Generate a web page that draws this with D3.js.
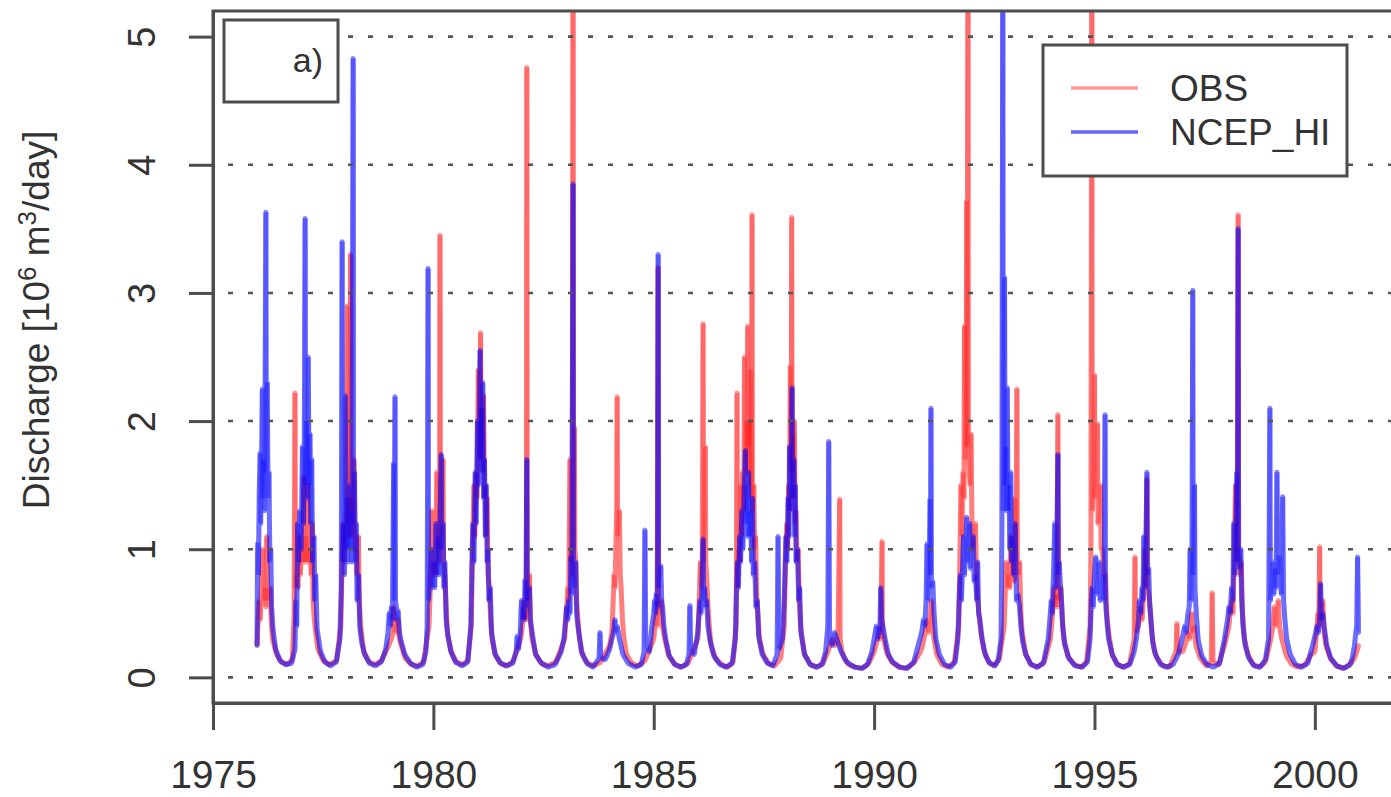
<!DOCTYPE html>
<html>
<head>
<meta charset="utf-8">
<script src="https://cdn.jsdelivr.net/npm/d3@7"></script>
<style>
  body { margin: 0; background: #fff; }
  svg { display: block; font-family: "Liberation Sans", Arial, sans-serif; }
</style>
</head>
<body>
<svg id="chart" width="1391" height="797"></svg>
<script>
// Axis ticks
const xTicks = [1975, 1980, 1985, 1990, 1995, 2000];
const yTicks = [0, 1, 2, 3, 4, 5];
const seriesNames = ["OBS", "NCEP_HI"];
const panelTag = "a)";

// Observed discharge, [decimal year, 10^6 m^3/day]
const obs = [
  [1976.00,0.25],[1976.03,0.50],[1976.05,0.60],[1976.07,0.45],[1976.10,0.70],[1976.13,1.00],[1976.15,0.60],[1976.18,0.70],[1976.20,0.55],[1976.22,1.10],[1976.24,0.60],[1976.27,0.65],[1976.30,0.70],[1976.32,0.45],[1976.35,0.30],[1976.44,0.18],[1976.55,0.12],[1976.68,0.10],[1976.80,0.14],
  [1976.84,0.50],[1976.86,2.22],[1976.87,0.70],[1976.90,0.80],[1976.93,0.70],[1976.95,1.10],[1976.98,0.80],[1977.01,1.00],[1977.04,0.90],[1977.06,1.56],[1977.08,0.90],[1977.11,1.10],[1977.13,0.90],[1977.15,1.50],[1977.17,0.90],[1977.20,1.00],[1977.23,0.80],[1977.25,1.20],[1977.27,0.60],[1977.30,0.45],[1977.33,0.35],[1977.38,0.22],[1977.50,0.13],[1977.64,0.10],[1977.80,0.13],
  [1977.90,0.40],[1977.93,0.90],[1977.95,1.20],[1977.97,0.90],[1978.00,1.10],[1978.03,1.30],[1978.05,2.90],[1978.06,1.20],[1978.09,1.40],[1978.11,1.10],[1978.12,3.30],[1978.13,1.30],[1978.16,1.40],[1978.18,1.10],[1978.20,1.70],[1978.22,1.00],[1978.25,1.00],[1978.27,0.80],[1978.30,1.10],[1978.32,0.60],[1978.35,0.40],[1978.42,0.20],[1978.54,0.12],[1978.68,0.10],[1978.82,0.13],
  [1978.95,0.22],[1979.02,0.28],[1979.05,0.30],[1979.08,0.35],[1979.10,0.55],[1979.13,0.35],[1979.16,0.40],[1979.20,0.45],[1979.23,0.30],[1979.27,0.25],[1979.36,0.15],[1979.50,0.10],[1979.64,0.09],[1979.78,0.12],
  [1979.90,0.40],[1979.94,0.80],[1979.97,1.30],[1979.99,0.80],[1980.02,0.90],[1980.05,0.80],[1980.08,1.60],[1980.10,1.00],[1980.12,1.10],[1980.14,0.90],[1980.15,3.45],[1980.16,1.10],[1980.19,1.20],[1980.22,1.70],[1980.23,0.90],[1980.26,0.80],[1980.29,0.55],[1980.32,0.35],[1980.40,0.20],[1980.52,0.12],[1980.66,0.10],[1980.78,0.13],
  [1980.86,0.40],[1980.89,1.00],[1980.92,1.50],[1980.94,1.10],[1980.97,1.60],[1980.99,1.40],[1981.02,2.40],[1981.04,1.70],[1981.06,2.00],[1981.07,2.69],[1981.09,1.80],[1981.11,2.10],[1981.13,1.60],[1981.14,2.20],[1981.16,1.40],[1981.18,1.50],[1981.20,1.10],[1981.22,1.40],[1981.24,0.80],[1981.27,0.70],[1981.30,0.45],[1981.33,0.30],[1981.40,0.18],[1981.52,0.11],[1981.66,0.09],[1981.80,0.12],
  [1981.98,0.30],[1982.02,0.40],[1982.05,0.60],[1982.07,0.45],[1982.09,0.50],[1982.11,0.45],[1982.12,4.76],[1982.13,0.60],[1982.15,0.50],[1982.18,0.80],[1982.20,0.45],[1982.24,0.30],[1982.32,0.18],[1982.45,0.11],[1982.60,0.09],[1982.78,0.12],
  [1982.98,0.30],[1983.02,0.50],[1983.05,0.70],[1983.07,0.60],[1983.10,1.70],[1983.11,0.90],[1983.13,1.00],[1983.15,0.80],[1983.17,6.50],[1983.18,1.00],[1983.20,1.95],[1983.21,1.00],[1983.23,0.90],[1983.25,0.60],[1983.28,0.45],[1983.31,0.32],[1983.38,0.18],[1983.50,0.11],[1983.64,0.09],[1983.80,0.12],
  [1984.00,0.25],[1984.05,0.35],[1984.08,0.60],[1984.10,0.80],[1984.12,0.70],[1984.14,1.00],[1984.16,1.32],[1984.17,2.19],[1984.18,1.10],[1984.20,1.20],[1984.22,1.30],[1984.24,0.80],[1984.26,0.70],[1984.29,0.45],[1984.32,0.32],[1984.38,0.18],[1984.50,0.11],[1984.64,0.09],[1984.80,0.13],
  [1985.00,0.30],[1985.04,0.45],[1985.06,0.50],[1985.08,0.40],[1985.10,3.20],[1985.11,0.50],[1985.14,0.55],[1985.17,0.60],[1985.20,0.40],[1985.25,0.30],[1985.34,0.17],[1985.48,0.10],[1985.62,0.08],[1985.78,0.11],
  [1986.00,0.30],[1986.03,0.60],[1986.06,0.90],[1986.08,0.70],[1986.10,0.90],[1986.12,2.76],[1986.13,0.90],[1986.15,1.20],[1986.17,1.80],[1986.18,0.90],[1986.20,0.80],[1986.23,0.55],[1986.26,0.40],[1986.30,0.25],[1986.40,0.15],[1986.54,0.10],[1986.68,0.08],[1986.80,0.12],
  [1986.87,0.40],[1986.89,2.22],[1986.90,0.70],[1986.93,1.00],[1986.95,0.90],[1986.97,1.50],[1986.99,1.10],[1987.02,1.60],[1987.04,1.30],[1987.06,2.50],[1987.08,1.60],[1987.10,2.00],[1987.12,1.60],[1987.13,2.74],[1987.15,1.80],[1987.17,2.00],[1987.19,1.50],[1987.20,2.40],[1987.22,1.40],[1987.23,3.61],[1987.24,1.30],[1987.27,1.50],[1987.29,1.00],[1987.31,1.10],[1987.34,0.60],[1987.37,0.45],[1987.40,0.30],[1987.48,0.18],[1987.60,0.11],[1987.74,0.09],[1987.88,0.15],
  [1987.96,0.40],[1987.99,0.90],[1988.02,1.20],[1988.04,1.00],[1988.06,1.50],[1988.08,1.30],[1988.10,2.43],[1988.12,1.60],[1988.13,3.59],[1988.14,1.60],[1988.16,1.90],[1988.18,1.40],[1988.19,2.00],[1988.21,1.20],[1988.23,1.30],[1988.25,0.90],[1988.28,1.00],[1988.30,0.60],[1988.33,0.40],[1988.42,0.18],[1988.55,0.10],[1988.70,0.08],[1988.84,0.11],
  [1988.95,0.20],[1989.05,0.30],[1989.12,0.25],[1989.18,0.30],[1989.22,1.39],[1989.23,0.30],[1989.26,0.22],[1989.32,0.15],[1989.42,0.10],[1989.58,0.08],[1989.74,0.07],[1989.88,0.11],
  [1990.00,0.20],[1990.08,0.30],[1990.12,0.35],[1990.15,0.30],[1990.18,1.06],[1990.19,0.35],[1990.22,0.30],[1990.28,0.20],[1990.40,0.12],[1990.56,0.08],[1990.72,0.07],[1990.90,0.11],
  [1991.05,0.20],[1991.10,0.25],[1991.16,0.35],[1991.20,0.45],[1991.23,0.35],[1991.27,0.45],[1991.30,0.60],[1991.32,0.40],[1991.36,0.30],[1991.42,0.18],[1991.54,0.10],[1991.68,0.08],[1991.82,0.12],
  [1991.92,0.40],[1991.95,1.00],[1991.97,1.50],[1991.99,1.10],[1992.02,1.60],[1992.04,1.40],[1992.05,2.74],[1992.07,1.70],[1992.09,2.00],[1992.10,3.72],[1992.11,1.80],[1992.13,6.50],[1992.14,1.90],[1992.16,1.60],[1992.18,1.50],[1992.20,1.90],[1992.22,1.20],[1992.24,1.00],[1992.27,1.10],[1992.30,1.20],[1992.32,0.80],[1992.35,0.60],[1992.38,0.50],[1992.42,0.35],[1992.50,0.20],[1992.60,0.12],[1992.72,0.09],[1992.84,0.14],
  [1992.95,0.40],[1992.98,0.70],[1993.00,0.90],[1993.03,0.70],[1993.05,0.80],[1993.08,0.70],[1993.10,1.10],[1993.13,0.80],[1993.16,0.90],[1993.18,0.75],[1993.20,1.40],[1993.22,0.90],[1993.24,2.25],[1993.25,0.90],[1993.28,0.80],[1993.30,0.90],[1993.33,0.50],[1993.36,0.35],[1993.44,0.18],[1993.56,0.10],[1993.70,0.08],[1993.86,0.12],
  [1994.00,0.30],[1994.05,0.50],[1994.08,0.70],[1994.10,0.55],[1994.13,0.65],[1994.15,0.55],[1994.17,2.05],[1994.18,0.60],[1994.21,0.65],[1994.24,0.70],[1994.27,0.45],[1994.30,0.30],[1994.40,0.16],[1994.54,0.10],[1994.70,0.08],[1994.82,0.12],
  [1994.90,0.40],[1994.92,1.00],[1994.94,6.50],[1994.95,1.30],[1994.97,1.50],[1995.00,2.36],[1995.01,1.40],[1995.04,1.50],[1995.07,1.98],[1995.08,1.20],[1995.11,1.30],[1995.14,1.50],[1995.15,1.00],[1995.18,1.00],[1995.21,0.80],[1995.25,0.80],[1995.28,0.50],[1995.32,0.35],[1995.40,0.18],[1995.52,0.10],[1995.66,0.08],[1995.80,0.11],
  [1995.90,0.30],[1995.92,0.94],[1995.93,0.35],[1996.00,0.40],[1996.05,0.55],[1996.08,0.45],[1996.12,0.70],[1996.15,1.00],[1996.17,0.70],[1996.19,1.55],[1996.20,0.70],[1996.23,0.65],[1996.27,0.50],[1996.30,0.35],[1996.35,0.22],[1996.42,0.15],[1996.55,0.09],[1996.70,0.08],
  [1996.85,0.20],[1996.87,0.42],[1996.89,0.20],[1997.00,0.20],[1997.08,0.28],[1997.12,0.35],[1997.16,0.30],[1997.20,0.50],[1997.23,0.35],[1997.26,0.40],[1997.30,0.25],[1997.40,0.15],[1997.54,0.09],[1997.65,0.12],[1997.67,0.66],[1997.69,0.12],[1997.82,0.10],
  [1997.95,0.25],[1998.02,0.35],[1998.05,0.40],[1998.09,0.55],[1998.12,0.60],[1998.14,0.50],[1998.17,0.90],[1998.20,1.50],[1998.22,0.90],[1998.24,1.00],[1998.26,3.61],[1998.27,1.00],[1998.30,0.80],[1998.33,0.90],[1998.36,0.50],[1998.40,0.30],[1998.48,0.18],[1998.60,0.10],[1998.74,0.08],[1998.88,0.12],
  [1999.00,0.30],[1999.05,0.40],[1999.08,0.55],[1999.10,0.40],[1999.13,0.45],[1999.17,0.60],[1999.20,0.40],[1999.25,0.30],[1999.35,0.17],[1999.48,0.10],[1999.62,0.08],[1999.78,0.10],
  [1999.92,0.18],[2000.00,0.20],[2000.04,0.35],[2000.07,0.50],[2000.09,0.40],[2000.11,1.02],[2000.12,0.45],[2000.15,0.45],[2000.18,0.60],[2000.21,0.35],[2000.25,0.25],[2000.35,0.15],[2000.48,0.09],[2000.64,0.07],[2000.80,0.10],
  [2000.90,0.15],[2000.95,0.20],[2000.99,0.25]
];

// Simulated discharge (NCEP_HI), [decimal year, 10^6 m^3/day]
const ncep = [
  [1976.00,0.25],[1976.01,0.95],[1976.02,1.05],[1976.03,0.80],[1976.05,1.45],[1976.07,1.75],[1976.08,1.20],[1976.10,1.60],[1976.12,2.25],[1976.13,1.40],[1976.15,1.70],[1976.17,1.30],[1976.20,3.63],[1976.21,1.60],[1976.23,2.30],[1976.25,1.40],[1976.27,1.60],[1976.29,0.90],[1976.31,1.00],[1976.33,0.55],[1976.36,0.38],[1976.42,0.22],[1976.52,0.13],[1976.65,0.10],[1976.78,0.11],
  [1976.86,0.22],[1976.88,0.60],[1976.90,0.40],[1976.92,1.20],[1976.94,0.90],[1976.97,1.30],[1977.00,1.00],[1977.03,1.80],[1977.05,1.20],[1977.07,1.60],[1977.09,3.58],[1977.10,1.50],[1977.12,2.00],[1977.14,1.40],[1977.16,2.50],[1977.18,1.50],[1977.20,1.90],[1977.22,1.20],[1977.24,1.70],[1977.26,0.90],[1977.29,1.10],[1977.31,0.60],[1977.33,0.80],[1977.36,0.38],[1977.44,0.20],[1977.54,0.12],[1977.66,0.09],[1977.80,0.12],
  [1977.88,0.30],[1977.91,0.70],[1977.93,3.40],[1977.94,0.90],[1977.96,1.20],[1977.98,0.80],[1978.00,2.20],[1978.02,1.00],[1978.04,1.40],[1978.06,0.90],[1978.08,1.50],[1978.10,1.00],[1978.13,1.30],[1978.15,0.90],[1978.18,4.83],[1978.19,1.20],[1978.21,1.60],[1978.23,0.90],[1978.25,1.20],[1978.27,0.60],[1978.30,0.80],[1978.33,0.40],[1978.37,0.28],[1978.44,0.18],[1978.55,0.11],[1978.68,0.09],[1978.82,0.12],
  [1978.92,0.22],[1978.97,0.35],[1979.00,0.50],[1979.02,0.40],[1979.05,0.55],[1979.07,0.45],[1979.10,1.67],[1979.11,0.60],[1979.13,2.19],[1979.14,0.60],[1979.16,0.55],[1979.18,0.45],[1979.20,0.52],[1979.23,0.35],[1979.27,0.28],[1979.35,0.18],[1979.48,0.11],[1979.62,0.08],[1979.76,0.10],
  [1979.83,0.20],[1979.86,0.40],[1979.88,3.19],[1979.89,0.60],[1979.92,0.80],[1979.96,1.00],[1979.98,0.70],[1980.01,0.90],[1980.03,0.70],[1980.06,1.20],[1980.08,0.80],[1980.11,1.10],[1980.13,0.80],[1980.16,1.40],[1980.18,1.74],[1980.19,1.00],[1980.22,1.20],[1980.24,0.70],[1980.26,0.90],[1980.29,0.45],[1980.33,0.32],[1980.40,0.20],[1980.50,0.12],[1980.65,0.09],[1980.78,0.12],
  [1980.85,0.40],[1980.88,1.00],[1980.90,1.20],[1980.92,0.90],[1980.95,1.60],[1980.97,1.20],[1981.00,2.00],[1981.02,1.50],[1981.04,1.90],[1981.06,2.55],[1981.07,1.70],[1981.09,2.10],[1981.11,1.60],[1981.12,2.30],[1981.14,1.40],[1981.16,1.70],[1981.18,1.10],[1981.20,1.50],[1981.22,0.90],[1981.24,1.00],[1981.26,0.60],[1981.29,0.70],[1981.32,0.35],[1981.40,0.18],[1981.52,0.11],[1981.66,0.09],[1981.80,0.11],
  [1981.88,0.20],[1981.90,0.32],[1981.93,0.22],[1981.97,0.35],[1982.00,0.60],[1982.02,0.45],[1982.04,0.55],[1982.06,0.45],[1982.08,0.76],[1982.10,0.55],[1982.12,1.70],[1982.13,0.60],[1982.15,0.65],[1982.18,0.70],[1982.20,0.45],[1982.24,0.35],[1982.32,0.18],[1982.45,0.11],[1982.60,0.08],[1982.76,0.10],
  [1982.90,0.20],[1982.96,0.30],[1983.00,0.45],[1983.02,0.55],[1983.05,0.45],[1983.07,0.60],[1983.10,0.50],[1983.12,0.94],[1983.14,0.65],[1983.17,3.85],[1983.18,0.80],[1983.20,0.70],[1983.23,0.90],[1983.25,0.50],[1983.28,0.40],[1983.36,0.20],[1983.48,0.11],[1983.62,0.08],
  [1983.76,0.15],[1983.78,0.35],[1983.80,0.15],[1983.90,0.14],[1984.00,0.22],[1984.05,0.30],[1984.09,0.35],[1984.12,0.45],[1984.14,0.35],[1984.17,0.40],[1984.22,0.30],[1984.30,0.18],[1984.42,0.11],[1984.58,0.08],[1984.72,0.10],
  [1984.78,0.20],[1984.80,1.15],[1984.82,0.25],[1984.90,0.20],[1984.96,0.40],[1985.00,0.50],[1985.02,0.60],[1985.04,0.50],[1985.06,0.65],[1985.08,0.55],[1985.10,3.30],[1985.11,0.70],[1985.13,0.80],[1985.16,0.87],[1985.18,0.60],[1985.20,0.55],[1985.23,0.40],[1985.27,0.30],[1985.35,0.17],[1985.48,0.10],[1985.62,0.08],[1985.74,0.10],
  [1985.80,0.18],[1985.82,0.56],[1985.84,0.20],[1985.92,0.18],[1986.00,0.35],[1986.03,0.50],[1986.05,0.60],[1986.07,0.50],[1986.09,0.65],[1986.12,1.08],[1986.13,0.60],[1986.15,0.70],[1986.18,0.55],[1986.20,0.60],[1986.23,0.40],[1986.27,0.30],[1986.36,0.17],[1986.50,0.10],[1986.64,0.08],[1986.78,0.11],
  [1986.85,0.30],[1986.88,0.70],[1986.90,0.90],[1986.92,0.70],[1986.95,1.10],[1986.97,0.90],[1987.00,1.30],[1987.02,1.00],[1987.05,1.40],[1987.08,1.77],[1987.09,1.20],[1987.12,1.50],[1987.14,1.10],[1987.15,1.60],[1987.17,1.10],[1987.20,1.30],[1987.22,0.90],[1987.24,1.40],[1987.26,0.80],[1987.29,0.90],[1987.32,0.55],[1987.35,0.60],[1987.38,0.32],[1987.46,0.18],[1987.58,0.11],[1987.70,0.09],
  [1987.80,0.18],[1987.82,1.10],[1987.84,0.22],[1987.92,0.30],[1987.96,0.60],[1988.00,1.10],[1988.02,0.90],[1988.05,1.40],[1988.07,1.10],[1988.08,1.80],[1988.10,1.30],[1988.12,1.60],[1988.14,2.26],[1988.15,1.40],[1988.18,1.70],[1988.20,1.10],[1988.21,1.50],[1988.23,0.90],[1988.26,1.00],[1988.29,0.60],[1988.31,0.70],[1988.34,0.35],[1988.42,0.18],[1988.55,0.10],[1988.70,0.08],[1988.82,0.10],
  [1988.90,0.20],[1988.95,0.40],[1988.97,1.84],[1988.99,0.30],[1989.05,0.25],[1989.10,0.35],[1989.15,0.30],[1989.25,0.20],[1989.38,0.12],[1989.55,0.08],[1989.72,0.07],[1989.85,0.10],
  [1989.95,0.20],[1990.05,0.40],[1990.08,0.30],[1990.11,0.40],[1990.13,0.35],[1990.15,0.70],[1990.17,0.45],[1990.20,0.40],[1990.25,0.30],[1990.32,0.18],[1990.42,0.12],[1990.58,0.08],[1990.75,0.07],[1990.90,0.12],
  [1991.00,0.25],[1991.08,0.35],[1991.12,0.45],[1991.15,0.40],[1991.18,0.60],[1991.20,1.04],[1991.22,0.60],[1991.25,0.80],[1991.27,1.39],[1991.28,0.80],[1991.29,2.10],[1991.30,0.70],[1991.33,0.75],[1991.36,0.50],[1991.40,0.30],[1991.48,0.18],[1991.60,0.10],[1991.74,0.08],[1991.84,0.12],
  [1991.90,0.30],[1991.94,0.70],[1991.96,0.80],[1991.98,0.60],[1992.01,0.90],[1992.03,1.10],[1992.05,0.80],[1992.08,1.00],[1992.10,1.25],[1992.12,0.90],[1992.15,1.10],[1992.17,1.20],[1992.19,0.85],[1992.22,1.00],[1992.25,1.10],[1992.27,0.75],[1992.30,0.80],[1992.33,0.60],[1992.35,0.90],[1992.37,0.50],[1992.40,0.45],[1992.45,0.30],[1992.52,0.18],[1992.62,0.11],[1992.74,0.09],[1992.82,0.14],
  [1992.88,0.30],[1992.90,1.20],[1992.92,6.00],[1992.93,1.30],[1992.96,3.12],[1992.97,1.50],[1992.99,1.80],[1993.01,1.30],[1993.02,2.26],[1993.04,1.30],[1993.06,1.50],[1993.08,1.00],[1993.10,1.60],[1993.12,0.90],[1993.14,1.10],[1993.17,0.80],[1993.20,1.20],[1993.23,0.60],[1993.26,0.65],[1993.30,0.55],[1993.33,0.40],[1993.37,0.28],[1993.44,0.18],[1993.56,0.10],[1993.70,0.08],[1993.84,0.11],
  [1993.95,0.30],[1994.00,0.50],[1994.02,0.60],[1994.04,0.50],[1994.07,0.80],[1994.10,1.20],[1994.12,0.70],[1994.14,0.90],[1994.17,1.74],[1994.18,0.80],[1994.20,0.90],[1994.23,0.70],[1994.25,0.60],[1994.28,0.40],[1994.33,0.25],[1994.42,0.15],[1994.56,0.09],[1994.72,0.08],[1994.84,0.12],
  [1994.90,0.30],[1994.93,0.60],[1994.95,0.70],[1994.97,0.55],[1995.00,0.80],[1995.03,0.94],[1995.05,0.65],[1995.08,0.80],[1995.10,0.90],[1995.13,0.60],[1995.16,0.70],[1995.20,0.80],[1995.22,0.60],[1995.24,2.05],[1995.25,0.60],[1995.28,0.45],[1995.32,0.30],[1995.40,0.18],[1995.52,0.10],[1995.66,0.08],[1995.80,0.10],
  [1995.90,0.20],[1995.95,0.30],[1996.00,0.45],[1996.02,0.60],[1996.05,0.50],[1996.08,0.70],[1996.10,0.60],[1996.12,1.10],[1996.14,0.70],[1996.16,0.90],[1996.19,1.60],[1996.20,0.80],[1996.23,0.85],[1996.25,0.60],[1996.28,0.45],[1996.32,0.28],[1996.38,0.18],[1996.50,0.10],[1996.64,0.08],[1996.78,0.10],
  [1996.90,0.18],[1996.95,0.25],[1997.02,0.35],[1997.05,0.40],[1997.08,0.35],[1997.12,0.50],[1997.15,0.55],[1997.17,1.00],[1997.19,0.60],[1997.21,0.70],[1997.23,3.02],[1997.24,0.80],[1997.26,1.10],[1997.27,1.50],[1997.28,0.70],[1997.31,0.50],[1997.35,0.30],[1997.43,0.17],[1997.55,0.10],[1997.70,0.08],[1997.84,0.11],
  [1997.95,0.30],[1998.02,0.45],[1998.05,0.55],[1998.08,0.50],[1998.11,0.70],[1998.14,0.60],[1998.16,1.20],[1998.18,0.80],[1998.20,1.00],[1998.23,1.60],[1998.24,0.90],[1998.26,3.50],[1998.27,1.00],[1998.30,0.85],[1998.32,1.00],[1998.34,0.60],[1998.37,0.40],[1998.42,0.25],[1998.50,0.15],[1998.62,0.09],[1998.76,0.08],[1998.88,0.14],
  [1998.95,0.30],[1998.98,2.10],[1998.99,0.60],[1999.02,0.75],[1999.05,0.90],[1999.07,0.65],[1999.10,0.85],[1999.12,0.70],[1999.14,1.60],[1999.16,0.80],[1999.19,0.95],[1999.22,0.90],[1999.24,0.65],[1999.27,1.41],[1999.29,0.60],[1999.32,0.45],[1999.36,0.30],[1999.44,0.18],[1999.56,0.10],[1999.70,0.08],[1999.84,0.11],
  [1999.95,0.25],[2000.02,0.35],[2000.05,0.40],[2000.08,0.35],[2000.11,0.45],[2000.13,0.73],[2000.15,0.45],[2000.18,0.50],[2000.21,0.40],[2000.27,0.25],[2000.36,0.15],[2000.50,0.09],[2000.66,0.07],[2000.80,0.10],
  [2000.85,0.15],[2000.90,0.25],[2000.93,0.35],[2000.95,0.40],[2000.97,0.94],[2000.99,0.35]
];

const svg = d3.select("#chart");
const plot = { left: 213, right: 1403, top: 11, bottom: 703 };

const x = d3.scaleLinear().domain([1975, 2002]).range([plot.left, plot.right]);
const y = d3.scaleLinear().domain([-0.2, 5.2]).range([plot.bottom, plot.top]);

const axisColor = "#4d4d4d";
const textColor = "#333";

svg.append("defs").append("clipPath").attr("id", "plot-clip")
  .append("rect")
  .attr("x", plot.left).attr("y", plot.top)
  .attr("width", plot.right - plot.left).attr("height", plot.bottom - plot.top);

const line = d3.line().x(d => x(d[0])).y(d => y(d[1]));

// A translucent hydrograph line, plus a faint per-segment layer so that
// tightly packed fluctuations within a wet season build up colour.
function drawSeries(data, color, baseOpacity, segOpacity, width) {
  const g = svg.append("g").attr("clip-path", "url(#plot-clip)");
  g.append("path")
    .datum(data)
    .attr("d", line)
    .attr("fill", "none")
    .attr("stroke", color)
    .attr("stroke-opacity", baseOpacity)
    .attr("stroke-width", width)
    .attr("stroke-linejoin", "round")
    .attr("stroke-linecap", "round");
  g.selectAll("line")
    .data(d3.pairs(data))
    .join("line")
    .attr("x1", d => x(d[0][0])).attr("y1", d => y(d[0][1]))
    .attr("x2", d => x(d[1][0])).attr("y2", d => y(d[1][1]))
    .attr("stroke", color)
    .attr("stroke-opacity", segOpacity)
    .attr("stroke-width", width)
    .attr("stroke-linecap", "butt");
}
drawSeries(obs, "#ff0000", 0.4, 0.17, 5);
drawSeries(ncep, "#0000ff", 0.48, 0.19, 5);

// Dotted horizontal reference lines
svg.append("g")
  .selectAll("line")
  .data(yTicks)
  .join("line")
  .attr("x1", plot.left).attr("x2", plot.right)
  .attr("y1", d => y(d)).attr("y2", d => y(d))
  .attr("stroke", "#555")
  .attr("stroke-width", 2.6)
  .attr("stroke-dasharray", "5,15")
  .attr("stroke-dashoffset", 5);

// Plot frame
svg.append("rect")
  .attr("x", plot.left).attr("y", plot.top)
  .attr("width", plot.right - plot.left).attr("height", plot.bottom - plot.top)
  .attr("fill", "none").attr("stroke", axisColor).attr("stroke-width", 3);

// Bottom axis
const gx = svg.append("g")
  .attr("transform", `translate(0,${plot.bottom})`)
  .call(d3.axisBottom(x).tickValues(xTicks).tickFormat(d3.format("d"))
    .tickSize(27).tickSizeOuter(0));
gx.select(".domain").attr("stroke", axisColor).attr("stroke-width", 3);
gx.selectAll(".tick line").attr("stroke", axisColor).attr("stroke-width", 3);
gx.selectAll(".tick text")
  .attr("fill", textColor)
  .attr("font-size", 39)
  .attr("font-family", "Liberation Sans, Arial, sans-serif")
  .attr("dy", null)
  .attr("y", 85);

// Left axis, labels rotated parallel to the axis
const gy = svg.append("g")
  .attr("transform", `translate(${plot.left},0)`)
  .call(d3.axisLeft(y).tickValues(yTicks).tickFormat(d3.format("d"))
    .tickSize(24).tickSizeOuter(0));
gy.select(".domain").attr("stroke", axisColor).attr("stroke-width", 3);
gy.selectAll(".tick line").attr("stroke", axisColor).attr("stroke-width", 3);
gy.selectAll(".tick text")
  .attr("fill", textColor)
  .attr("font-size", 38)
  .attr("font-family", "Liberation Sans, Arial, sans-serif")
  .attr("text-anchor", "middle")
  .attr("dy", null)
  .attr("x", 0)
  .attr("y", -58)
  .attr("transform", "rotate(-90)");

// Y axis title
const title = svg.append("text")
  .attr("transform", "translate(49,320) rotate(-90)")
  .attr("text-anchor", "middle")
  .attr("fill", textColor)
  .attr("font-size", 37);
title.append("tspan").text("Discharge [10");
title.append("tspan").attr("dy", -13).attr("font-size", 26).text("6");
title.append("tspan").attr("dy", 13).text(" m");
title.append("tspan").attr("dy", -13).attr("font-size", 26).text("3");
title.append("tspan").attr("dy", 13).text("/day]");

// Panel tag box
svg.append("rect")
  .attr("x", 224).attr("y", 20).attr("width", 114).attr("height", 82)
  .attr("fill", "#fff").attr("stroke", axisColor).attr("stroke-width", 3);
svg.append("text")
  .attr("x", 323).attr("y", 72)
  .attr("text-anchor", "end")
  .attr("fill", textColor)
  .attr("font-size", 34)
  .text(panelTag);

// Legend
const legend = svg.append("g");
legend.append("rect")
  .attr("x", 1043).attr("y", 45).attr("width", 304).attr("height", 131)
  .attr("fill", "#fff").attr("stroke", axisColor).attr("stroke-width", 3);
const legendColors = ["rgba(255,0,0,0.4)", "rgba(0,0,255,0.6)"];
const legendY = [88, 132];
seriesNames.forEach((name, i) => {
  legend.append("line")
    .attr("x1", 1071).attr("x2", 1138)
    .attr("y1", legendY[i]).attr("y2", legendY[i])
    .attr("stroke", legendColors[i]).attr("stroke-width", 3.5);
  legend.append("text")
    .attr("x", 1170).attr("y", legendY[i] + 13)
    .attr("fill", textColor)
    .attr("font-size", 37)
    .text(name);
});
</script>
</body>
</html>
